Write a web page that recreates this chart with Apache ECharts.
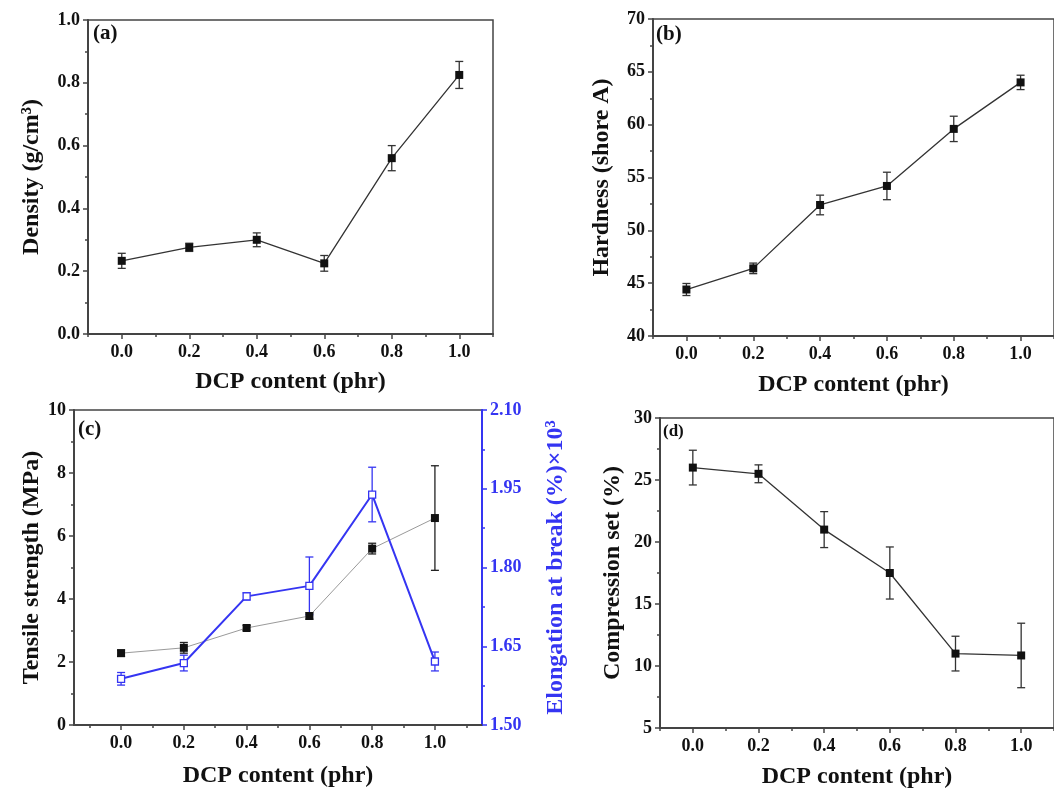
<!DOCTYPE html>
<html>
<head>
<meta charset="utf-8">
<script src="https://cdn.jsdelivr.net/npm/echarts@6/dist/echarts.min.js"></script>
<style>html,body{margin:0;padding:0;background:#fff;}#main{width:1054px;height:790px;}</style>
</head>
<body>
<div id="main"></div>
<script>
// ---- data ----
const dcp = [0, 0.2, 0.4, 0.6, 0.8, 1.0];
const xTickLabels = [0, 0.2, 0.4, 0.6, 0.8, 1.0];
const xMinorTicks = [-0.1, 0.1, 0.3, 0.5, 0.7, 0.9, 1.1];
const density = [0.233, 0.276, 0.300, 0.225, 0.560, 0.825];
const densityErr = [0.024, 0.013, 0.022, 0.025, 0.040, 0.043];
const hardness = [44.4, 46.4, 52.4, 54.2, 59.6, 64.0];
const hardnessErr = [0.57, 0.5, 0.93, 1.3, 1.2, 0.68];
const tensile = [2.28, 2.45, 3.08, 3.46, 5.60, 6.57];
const tensileErr = [0.10, 0.17, 0.08, 0.10, 0.17, 1.66];
const elongation = [1.588, 1.618, 1.745, 1.765, 1.939, 1.621];
const elongationErr = [0.012, 0.015, 0.007, 0.055, 0.052, 0.018];
const compression = [26.0, 25.5, 21.0, 17.5, 11.0, 10.85];
const compressionErr = [1.4, 0.72, 1.45, 2.1, 1.4, 2.6];

const FONT = "'Liberation Serif','Times New Roman',serif";
const AX = '#444';
const BLUE = '#3535f2';
const TITLE_SIZE = 24;
const LABEL_SIZE = 18;

const chart = echarts.init(document.getElementById('main'), null, {renderer: 'canvas'});

function gridBox(left, right, top, bottom) {
  return {left, right, top, bottom, show: true, borderColor: AX, borderWidth: 1.5,
          backgroundColor: 'transparent', containLabel: false};
}

function xAxesFor(gridIndex, min, max, nameGap) {
  return [
    {type: 'value', gridIndex, min, max, position: 'bottom',
     name: 'DCP content (phr)', nameLocation: 'middle', nameGap,
     nameTextStyle: {fontFamily: FONT, fontWeight: 'bold', fontSize: TITLE_SIZE, color: '#111'},
     axisLine: {onZero: false, lineStyle: {color: AX, width: 2}},
     axisTick: {customValues: xTickLabels, length: 5, inside: false, lineStyle: {color: AX, width: 1.5}},
     axisLabel: {customValues: xTickLabels, formatter: v => v.toFixed(1), margin: 9,
                 fontFamily: FONT, fontWeight: 'bold', fontSize: LABEL_SIZE, color: '#111'},
     splitLine: {show: false}},
    {type: 'value', gridIndex, min, max, position: 'bottom',
     axisLine: {show: false},
     axisTick: {customValues: xMinorTicks, length: 3, lineStyle: {color: AX, width: 1.5}},
     axisLabel: {show: false}, splitLine: {show: false}}
  ];
}

function yAxisFor(gridIndex, min, max, interval, name, nameGap, decimals, opts) {
  opts = opts || {};
  const color = opts.color || AX;
  const txt = opts.textColor || '#111';
  return {
    type: 'value', gridIndex, min, max, interval, position: opts.position || 'left',
    name, nameLocation: 'middle', nameGap, nameRotate: 90,
    nameTextStyle: {fontFamily: FONT, fontWeight: 'bold', fontSize: TITLE_SIZE, color: txt},
    axisLine: {show: true, onZero: false, lineStyle: {color, width: 2}},
    axisTick: {show: true, length: 5, lineStyle: {color, width: 1.5}},
    minorTick: {show: true, splitNumber: 2, length: 3, lineStyle: {color, width: 1.5}},
    axisLabel: {formatter: v => v.toFixed(decimals), margin: 8,
                fontFamily: FONT, fontWeight: 'bold', fontSize: LABEL_SIZE, color: txt},
    splitLine: {show: false}, minorSplitLine: {show: false}
  };
}

function lineSeries(xAxisIndex, yAxisIndex, vals, opts) {
  opts = opts || {};
  return {
    type: 'line', xAxisIndex, yAxisIndex,
    data: dcp.map((x, i) => [x, vals[i]]),
    symbol: 'rect', symbolSize: opts.symbolSize || 8,
    itemStyle: {color: opts.fill || '#111', borderColor: opts.border || '#111', borderWidth: opts.borderWidth || 0},
    lineStyle: {color: opts.lineColor || '#333', width: opts.lineWidth || 1.3},
    showAllSymbol: true, animation: false, z: 3
  };
}

function errSeries(xAxisIndex, yAxisIndex, vals, errs, color) {
  return {
    type: 'custom', xAxisIndex, yAxisIndex,
    data: dcp.map((x, i) => [x, vals[i] - errs[i], vals[i] + errs[i]]),
    encode: {x: 0, y: [1, 2]},
    renderItem: function (params, api) {
      const x = api.value(0);
      const lo = api.coord([x, api.value(1)]);
      const hi = api.coord([x, api.value(2)]);
      const w = 4;
      const st = {stroke: color, lineWidth: 1.3};
      return {type: 'group', children: [
        {type: 'line', shape: {x1: lo[0], y1: lo[1], x2: hi[0], y2: hi[1]}, style: st},
        {type: 'line', shape: {x1: lo[0] - w, y1: lo[1], x2: lo[0] + w, y2: lo[1]}, style: st},
        {type: 'line', shape: {x1: hi[0] - w, y1: hi[1], x2: hi[0] + w, y2: hi[1]}, style: st}
      ]};
    },
    animation: false, z: 2
  };
}

const option = {
  backgroundColor: '#fff',
  animation: false,
  grid: [
    gridBox(88, 561, 20, 456),     // (a)
    gridBox(653, -5, 19, 454),     // (b)
    gridBox(74, 572, 410, 65),     // (c)
    gridBox(660, -7, 418, 61)      // (d)
  ],
  xAxis: [].concat(
    xAxesFor(0, -0.1, 1.1, 36),
    xAxesFor(1, -0.1, 1.1, 37),
    xAxesFor(2, -0.15, 1.15, 39),
    xAxesFor(3, -0.1, 1.1, 37)
  ),
  yAxis: [
    yAxisFor(0, 0, 1, 0.2, 'Density (g/cm³)', 44, 1),
    yAxisFor(1, 40, 70, 5, 'Hardness (shore A)', 39, 0),
    yAxisFor(2, 0, 10, 2, 'Tensile strength (MPa)', 30, 0),
    yAxisFor(2, 1.5, 2.1, 0.15, 'Elongation at break (%)×10³', 62, 2,
             {position: 'right', color: BLUE, textColor: BLUE}),
    yAxisFor(3, 5, 30, 5, 'Compression set (%)', 35, 0)
  ],
  series: [
    errSeries(0, 0, density, densityErr, '#333'),
    lineSeries(0, 0, density),
    errSeries(2, 1, hardness, hardnessErr, '#333'),
    lineSeries(2, 1, hardness),
    errSeries(4, 2, tensile, tensileErr, '#222'),
    lineSeries(4, 2, tensile, {lineColor: '#9a9a9a', lineWidth: 1}),
    errSeries(4, 3, elongation, elongationErr, BLUE),
    lineSeries(4, 3, elongation, {lineColor: BLUE, lineWidth: 2, fill: '#fff', border: BLUE, borderWidth: 1.3, symbolSize: 7}),
    errSeries(6, 4, compression, compressionErr, '#333'),
    lineSeries(6, 4, compression)
  ],
  graphic: [
    {type: 'text', left: 93, top: 23, style: {text: '(a)', font: "bold 21px 'Liberation Serif', serif", fill: '#111'}},
    {type: 'text', left: 656, top: 24, style: {text: '(b)', font: "bold 21px 'Liberation Serif', serif", fill: '#111'}},
    {type: 'text', left: 78, top: 419, style: {text: '(c)', font: "bold 21px 'Liberation Serif', serif", fill: '#111'}},
    {type: 'text', left: 663, top: 423, style: {text: '(d)', font: "bold 17px 'Liberation Serif', serif", fill: '#111'}}
  ]
};
chart.setOption(option);
</script>
</body>
</html>
